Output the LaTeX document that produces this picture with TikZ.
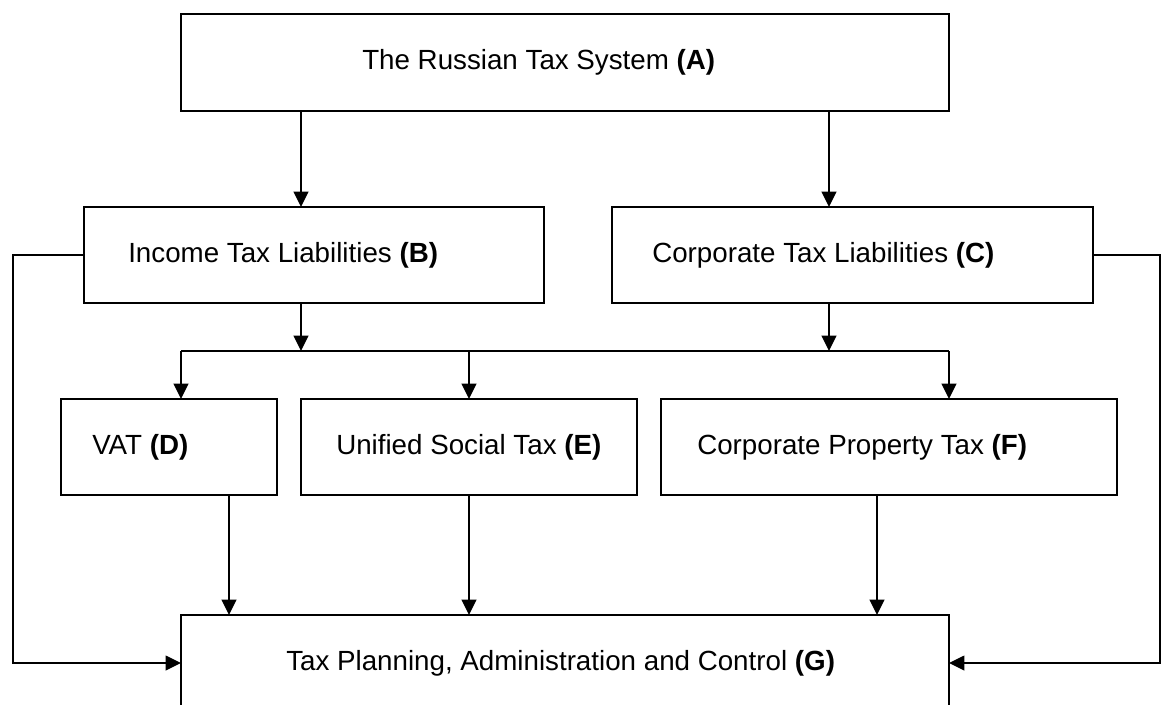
\documentclass[tikz,border=0pt]{standalone}
\usepackage{fontspec}
\setmainfont{Liberation Sans}
\usetikzlibrary{arrows.meta}

\tikzset{
    box/.style={draw, line width=1.2pt, inner sep=0pt, outer sep=0pt, minimum height=72pt},
    lbl/.style={anchor=west, inner sep=0pt, font=\fontsize{20.8pt}{24pt}\selectfont},
    arr/.style={line width=1.2pt, -{Triangle[width=11pt, length=11.5pt]}},
    wire/.style={line width=1.2pt}
}

\begin{document}
\begin{tikzpicture}[x=0.75pt, y=-0.75pt]
    \useasboundingbox (0,0) rectangle (1161,704);

    % Boxes
    \node[box, minimum width=576pt, minimum height=72.75pt] (A) at (565,62.5) {};
    \node[box, minimum width=345pt] (B) at (314,255) {};
    \node[box, minimum width=360.75pt] (C) at (852.5,255) {};
    \node[box, minimum width=162pt] (D) at (169,447) {};
    \node[box, minimum width=252pt] (E) at (469,447) {};
    \node[box, minimum width=342pt] (F) at (889,447) {};
    \node[box, minimum width=576pt] (G) at (565,663) {};

    % Texts
    \node[lbl] (a) at ([xshift=135.75pt]A.west) {The Russian Tax System \textbf{(A)}};
    \node[lbl] (b) at ([xshift=33pt]B.west) {Income Tax Liabilities \textbf{(B)}};
    \node[lbl] (c) at ([xshift=30pt]C.west) {Corporate Tax Liabilities \textbf{(C)}};
    \node[lbl] (d) at ([xshift=23.25pt]D.west) {VAT \textbf{(D)}};
    \node[lbl] (e) at ([xshift=26.25pt]E.west) {Unified Social Tax \textbf{(E)}};
    \node[lbl] (f) at ([xshift=27pt]F.west) {Corporate Property Tax \textbf{(F)}};
    \node[lbl] (g) at ([xshift=78.75pt]G.west) {Tax Planning, Administration and Control \textbf{(G)}};

    % Bus and helper points
    \coordinate (bl) at (181,351);
    \coordinate (br) at (949,351);
    \coordinate (b1) at (301,351);
    \coordinate (b2) at (829,351);
    \coordinate (gd) at (229,615);
    \coordinate (gf) at (877,615);
    \coordinate (lft) at (13,0);
    \coordinate (rgt) at (1160,0);

    \draw[arr] (b1 |- A.south) -- (b1 |- B.north);
    \draw[arr] (b2 |- A.south) -- (b2 |- C.north);
    \draw[arr] (b1 |- B.south) -- (b1);
    \draw[arr] (b2 |- C.south) -- (b2);
    \draw[wire] (bl) -- (br);
    \foreach \p/\n in {bl/D, E.north/E, br/F}
        \draw[arr] (\p |- bl) -- (\p |- \n.north);

    \draw[arr] (gd |- D.south) -- (gd);
    \draw[arr] (E.south) -- (E.south |- G.north);
    \draw[arr] (gf |- F.south) -- (gf);

    \draw[arr] (B.west) -- (B.west -| lft) -- (G.west -| lft) -- (G.west);
    \draw[arr] (C.east) -- (C.east -| rgt) -- (G.east -| rgt) -- (G.east);
\end{tikzpicture}
\end{document}
